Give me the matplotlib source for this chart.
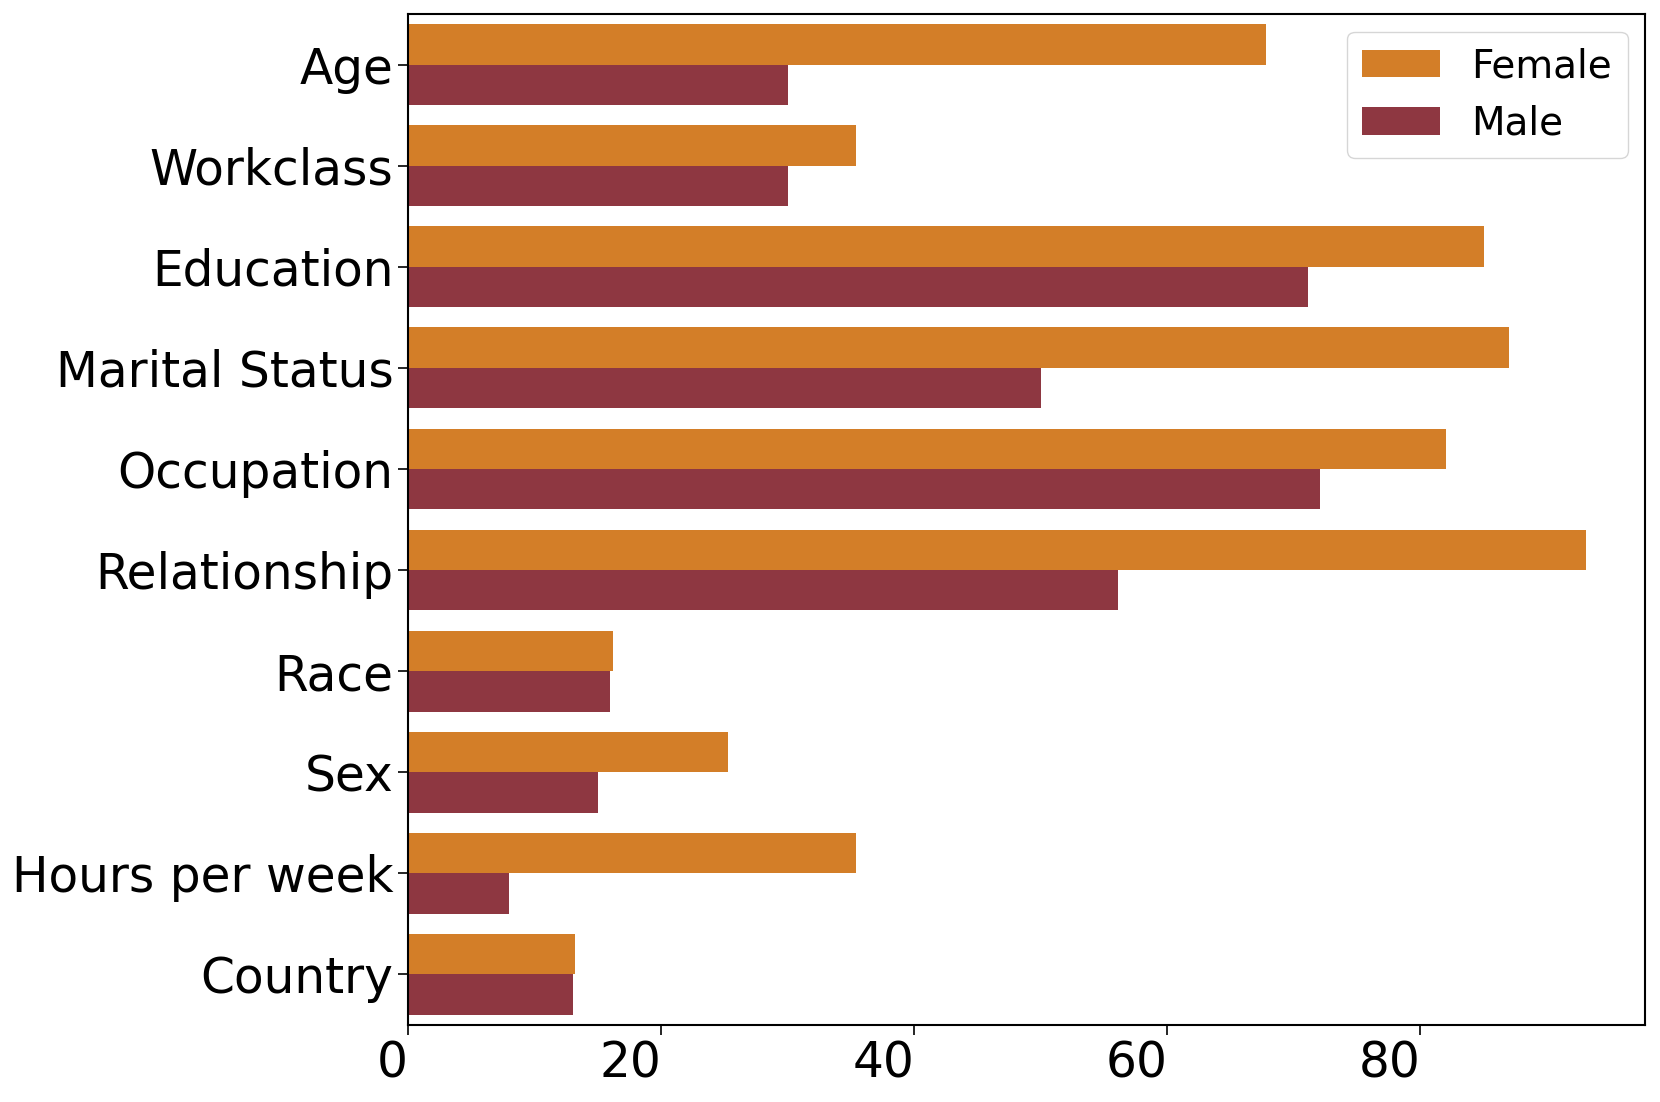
import numpy as np
import matplotlib.pyplot as plt

features = ["Age", "Workclass", "Education", "Marital Status", "Occupation",
            "Relationship", "Race", "Sex", "Hours per week", "Country"]
female = [67.8, 35.4, 85.0, 87.0, 82.0, 93.1, 16.2, 25.3, 35.4, 13.2]
male = [30.0, 30.0, 71.1, 50.0, 72.1, 56.1, 16.0, 15.0, 8.0, 13.0]

c_female = "#D37E28"
c_male = "#8E3741"

fig = plt.figure(figsize=(16.6, 11.02), dpi=100)
ax = fig.add_axes([408 / 1660, 1 - 1025 / 1102, (1645 - 408) / 1660, (1025 - 14) / 1102])

y = np.arange(len(features))
h = 0.4
ax.barh(y - h / 2, female, height=h, color=c_female, label="Female")
ax.barh(y + h / 2, male, height=h, color=c_male, label="Male")

ax.set_yticks(y)
ax.set_yticklabels(features)
ax.set_ylim(len(features) - 0.5, -0.5)
ax.set_xlim(0, max(female) * 1.05)
ax.set_xticks([0, 20, 40, 60, 80])
ax.tick_params(axis="both", labelsize=35, length=7, width=1.2)
for lab in ax.get_xticklabels():
    lab.set_ha("right")
for s in ax.spines.values():
    s.set_linewidth(1.5)

ax.legend(loc="upper right", fontsize=28, handlelength=2.0, handleheight=0.7,
          borderpad=0.4, labelspacing=0.5, handletextpad=0.8, borderaxespad=0.45)

fig.savefig("out.png", dpi=100)
